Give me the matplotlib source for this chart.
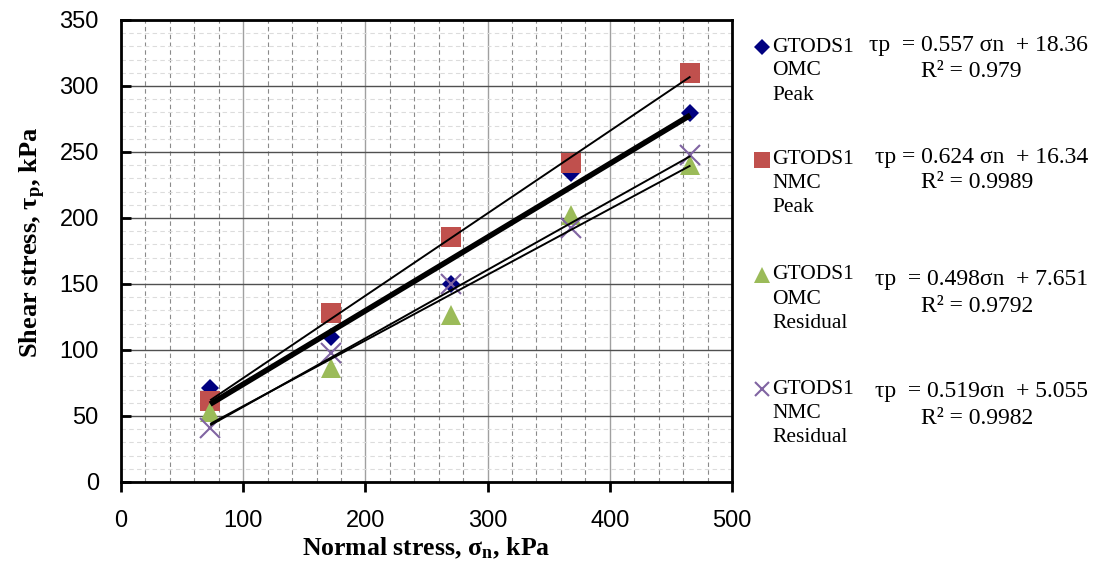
import numpy as np
import matplotlib
matplotlib.use('Agg')
import matplotlib.pyplot as plt
from matplotlib.ticker import MultipleLocator
from matplotlib.lines import Line2D

# data
sigma_n = [73, 172, 270, 368, 466]
omc_peak = [71, 110, 150, 234, 279.5]
nmc_peak = [61, 128, 185.6, 241.6, 310]
omc_res = [53, 86, 126.5, 202, 240]
nmc_res = [41, 97.7, 150, 192.4, 248]

# trendline coefficients (slope, intercept) as printed on the chart
slopes = [0.557, 0.624, 0.498, 0.519]
intercepts = [18.36, 16.34, 7.651, 5.055]
r2 = ['0.979', '0.9989', '0.9792', '0.9982']
eq_text = ['τp  = 0.557 σn  + 18.36', 'τp = 0.624 σn  + 16.34',
           'τp  = 0.498σn  + 7.651', 'τp  = 0.519σn  + 5.055']
labels = [['GTODS1', 'OMC', 'Peak'], ['GTODS1', 'NMC', 'Peak'],
          ['GTODS1', 'OMC', 'Residual'], ['GTODS1', 'NMC', 'Residual']]

colors = ['#000080', '#C0504D', '#9BBB59', '#8064A2']
markers = ['D', 's', '^', 'x']
msizes = [9, 14, 15, 14]
line_w = [4, 1.4, 1.4, 1.4]

plt.rcParams['mathtext.fontset'] = 'stix'
serif = 'Liberation Serif'

fig = plt.figure(figsize=(10.94, 5.70), dpi=100)
ax = fig.add_axes([121/1094, 1-482/570, (732-121)/1094, (482-20)/570])

series = [omc_peak, nmc_peak, omc_res, nmc_res]
x = np.array(sigma_n)
for i, ys in enumerate(series):
    if markers[i] == 'x':
        ax.plot(x, ys, linestyle='none', marker='x', ms=msizes[i], mew=1.5,
                color=colors[i], zorder=3)
    else:
        ax.plot(x, ys, linestyle='none', marker=markers[i], ms=msizes[i],
                mew=0, color=colors[i], zorder=3)
    xx = np.array([x[0], x[-1]])
    ax.plot(xx, slopes[i] * xx + intercepts[i], color='black',
            lw=line_w[i], zorder=4, solid_capstyle='butt')

ax.set_xlim(0, 500)
ax.set_ylim(0, 350)
ax.xaxis.set_major_locator(MultipleLocator(100))
ax.xaxis.set_minor_locator(MultipleLocator(20))
ax.yaxis.set_major_locator(MultipleLocator(50))
ax.yaxis.set_minor_locator(MultipleLocator(10))

ax.grid(which='major', axis='x', color='#a0a0a0', lw=1, zorder=0)
ax.grid(which='minor', axis='x', color='#8a8a8a', lw=0.8, ls=(0, (4, 3)), zorder=0)
ax.grid(which='major', axis='y', color='#505050', lw=1, zorder=0)
ax.grid(which='minor', axis='y', color='#dcdcdc', lw=0.8, ls=(0, (4, 3)), zorder=0)
ax.set_axisbelow(True)

for s in ax.spines.values():
    s.set_linewidth(2)
    s.set_color('black')

ax.tick_params(axis='y', which='major', direction='in', length=7, width=2,
               pad=16, labelsize=17)
ax.tick_params(axis='x', which='major', direction='out', length=7, width=2,
               pad=13, labelsize=17)
ax.tick_params(which='minor', length=0)
for lab in ax.get_xticklabels() + ax.get_yticklabels():
    lab.set_fontfamily('Liberation Sans')

ax.set_xlabel('Normal stress, σ$_\\mathregular{n}$, kPa', fontfamily=serif,
              fontweight='bold', fontsize=18.5, labelpad=3)
ax.set_ylabel('Shear stress, τ$_\\mathregular{p}$, kPa', fontfamily=serif,
              fontweight='bold', fontsize=19)
ax.yaxis.set_label_coords(-0.12, 0.52)

# legend block drawn by hand, positions in pixels from the top-left corner
W, H = 1094, 570
first_y = [47, 160, 275, 389]
eq_y = [45, 158, 280, 392]
r2_y = [72, 183, 306, 418]
for i in range(4):
    y0 = first_y[i]
    if markers[i] == 'x':
        fig.add_artist(Line2D([762/W], [1 - y0/H], marker='x', ms=10, mew=1.5,
                              color=colors[i], transform=fig.transFigure))
    else:
        ms = {'D': 8, 's': 11, '^': 12}[markers[i]]
        fig.add_artist(Line2D([762/W], [1 - y0/H], marker=markers[i], ms=ms,
                              mew=0, color=colors[i], transform=fig.transFigure))
    for j, t in enumerate(labels[i]):
        fig.text(772/W, 1 - (y0 + 24*j)/H, t, fontfamily=serif, fontsize=15.5,
                 ha='left', va='center')
    fig.text(1088/W, 1 - eq_y[i]/H, eq_text[i], fontfamily=serif, fontsize=17,
             ha='right', va='center')
    fig.text(921/W, 1 - r2_y[i]/H, 'R² = ' + r2[i], fontfamily=serif,
             fontsize=17, ha='left', va='center')

fig.savefig('out.png', dpi=100)
